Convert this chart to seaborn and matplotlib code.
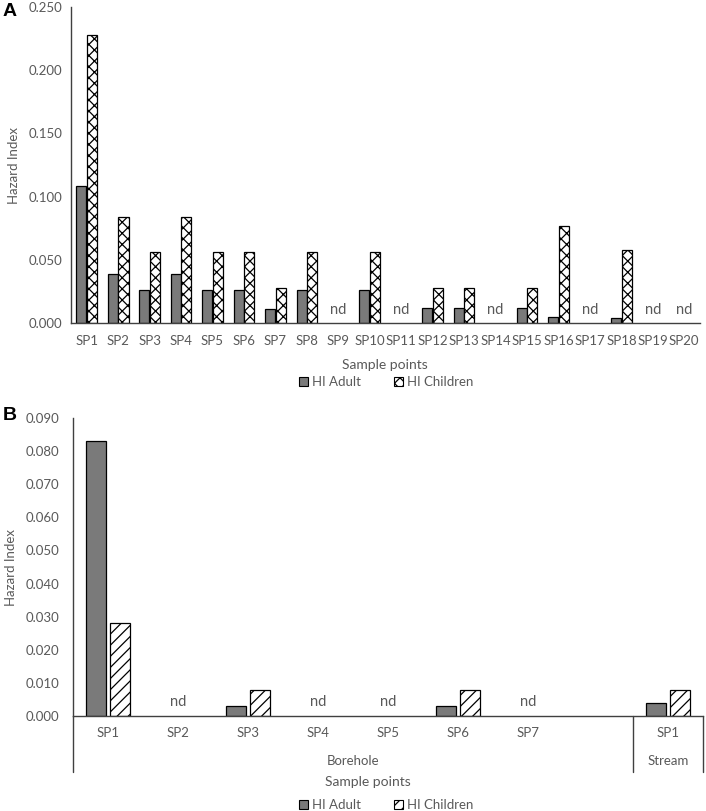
import numpy as np
import pandas as pd
import seaborn as sns
import matplotlib.pyplot as plt
from matplotlib.patches import Patch

# -------------------------------------------------
# DATA (nd = not detected)
# -------------------------------------------------

nd = np.nan

sites_a = ["SP1", "SP2", "SP3", "SP4", "SP5", "SP6", "SP7", "SP8", "SP9", "SP10",
           "SP11", "SP12", "SP13", "SP14", "SP15", "SP16", "SP17", "SP18", "SP19", "SP20"]
hi_adult_a = [0.108, 0.039, 0.026, 0.039, 0.026, 0.026, 0.011, 0.026, nd, 0.026,
              nd, 0.012, 0.012, nd, 0.012, 0.005, nd, 0.004, nd, nd]
hi_children_a = [0.228, 0.084, 0.056, 0.084, 0.056, 0.056, 0.028, 0.056, nd, 0.056,
                 nd, 0.028, 0.028, nd, 0.028, 0.077, nd, 0.058, nd, nd]

sites_b = ["SP1", "SP2", "SP3", "SP4", "SP5", "SP6", "SP7", "", "SP1"]
groups_b = ["Borehole"] * 7 + ["", "Stream"]
hi_adult_b = [0.083, nd, 0.003, nd, nd, 0.003, nd, nd, 0.004]
hi_children_b = [0.028, nd, 0.008, nd, nd, 0.008, nd, nd, 0.008]
nd_b = [False, True, False, True, True, False, True, False, False]

series = ["HI Adult", "HI Children"]

TEXT = "#595959"
AXIS = "#404040"
ADULT = "#7a7a7a"

sns.set_theme(style="white")
plt.rcParams["font.family"] = ["Lato", "DejaVu Sans"]
plt.rcParams["hatch.linewidth"] = 0.9
plt.rcParams["hatch.color"] = "black"


def long_table(keys, adult, children):
    return pd.DataFrame({
        "key": keys * 2,
        "series": [series[0]] * len(keys) + [series[1]] * len(keys),
        "value": list(adult) + list(children),
    })


def draw_bars(ax, df, order, width, gap, hatch):
    sns.barplot(data=df, x="key", y="value", hue="series", order=order,
                hue_order=series, palette=[ADULT, "white"], width=width, gap=gap,
                edgecolor="black", linewidth=0.9, saturation=1, legend=False, ax=ax)
    for p in ax.containers[1]:
        p.set_hatch(hatch)
    ax.set_xlabel("")
    ax.set_ylabel("")


def style_axis(ax, ymax, step, ypad, xpad):
    ax.set_ylim(0, ymax)
    ax.set_yticks(np.arange(0, ymax + step / 2, step))
    ax.set_yticklabels([f"{v:.3f}" for v in np.arange(0, ymax + step / 2, step)])
    ax.tick_params(axis="y", length=0, pad=ypad, labelsize=9.5, labelcolor=TEXT)
    ax.tick_params(axis="x", length=0, pad=xpad, labelsize=9.5, labelcolor=TEXT)
    for s in ["top", "right"]:
        ax.spines[s].set_visible(False)
    for s in ["left", "bottom"]:
        ax.spines[s].set_color(AXIS)
        ax.spines[s].set_linewidth(1.0)


fig = plt.figure(figsize=(7.06, 8.11), dpi=100)

# -------------------------------
# PANEL A
# -------------------------------

ax_a = fig.add_axes([71 / 706, 1 - 323 / 811, 629 / 706, 316 / 811])
df_a = long_table(sites_a, hi_adult_a, hi_children_a)
draw_bars(ax_a, df_a, sites_a, 0.68, 0.06, "xxx")
ax_a.set_xlim(-0.5, len(sites_a) - 0.5)
style_axis(ax_a, 0.25, 0.05, 6, 9)
ax_a.set_xticks(range(len(sites_a)))
ax_a.set_xticklabels(sites_a)
ax_a.set_ylabel("Hazard Index", fontsize=9.5, color=TEXT, labelpad=6)
for i, v in enumerate(hi_adult_a):
    if np.isnan(v) and np.isnan(hi_children_a[i]):
        ax_a.text(i, 0.0105, "nd", ha="center", va="center", fontsize=10.5, color=TEXT)

fig.text(385 / 706, 1 - 365 / 811, "Sample points", ha="center", va="center",
         fontsize=10, color=TEXT)
fig.text(3 / 706, 1 - 12 / 811, "A", ha="left", va="center", fontsize=14,
         fontweight="bold", family="Liberation Sans", color="black")

# -------------------------------
# PANEL B
# -------------------------------

keys_b = [f"{g}-{s}-{i}" for i, (g, s) in enumerate(zip(groups_b, sites_b))]
ax_b = fig.add_axes([73 / 706, 1 - 716 / 811, 630 / 706, 298 / 811])
df_b = long_table(keys_b, hi_adult_b, hi_children_b)
draw_bars(ax_b, df_b, keys_b, 0.68, 0.14, "///")
ax_b.set_xlim(-0.5, len(keys_b) - 0.5)
style_axis(ax_b, 0.09, 0.01, 10, 8)
ax_b.set_xticks(range(len(keys_b)))
ax_b.set_xticklabels(sites_b)
ax_b.set_ylabel("Hazard Index", fontsize=9.5, color=TEXT, labelpad=6)
for i, flag in enumerate(nd_b):
    if flag:
        ax_b.text(i, 0.0043, "nd", ha="center", va="center", fontsize=10.5, color=TEXT)

# multi level category axis: group brackets below the baseline
drop = -56 / 298
for xf in [0, 8 / 9, 1]:
    ax_b.plot([xf, xf], [0, drop], transform=ax_b.transAxes, color=AXIS,
              lw=1.0, clip_on=False)
ax_b.text(3.5, -45 / 298, "Borehole", transform=ax_b.get_xaxis_transform(),
          ha="center", va="center", fontsize=9.5, color=TEXT)
ax_b.text(8, -45 / 298, "Stream", transform=ax_b.get_xaxis_transform(),
          ha="center", va="center", fontsize=9.5, color=TEXT)

fig.text(368 / 706, 1 - 782 / 811, "Sample points", ha="center", va="center",
         fontsize=10, color=TEXT)
fig.text(3 / 706, 1 - 415 / 811, "B", ha="left", va="center", fontsize=14,
         fontweight="bold", family="Liberation Sans", color="black")

# -------------------------------
# LEGENDS
# -------------------------------

for y_px, hatch in [(382, "xxx"), (805, "///")]:
    handles = [Patch(facecolor=ADULT, edgecolor="black", linewidth=0.8),
               Patch(facecolor="white", edgecolor="black", linewidth=0.8, hatch=hatch)]
    fig.legend(handles, series, loc="center", bbox_to_anchor=(386 / 706, 1 - y_px / 811),
               ncol=2, frameon=False, fontsize=9.5, labelcolor=TEXT,
               handlelength=0.7, handleheight=0.7, handletextpad=0.3,
               columnspacing=2.5, borderaxespad=0)

fig.savefig("out.png", dpi=100)
